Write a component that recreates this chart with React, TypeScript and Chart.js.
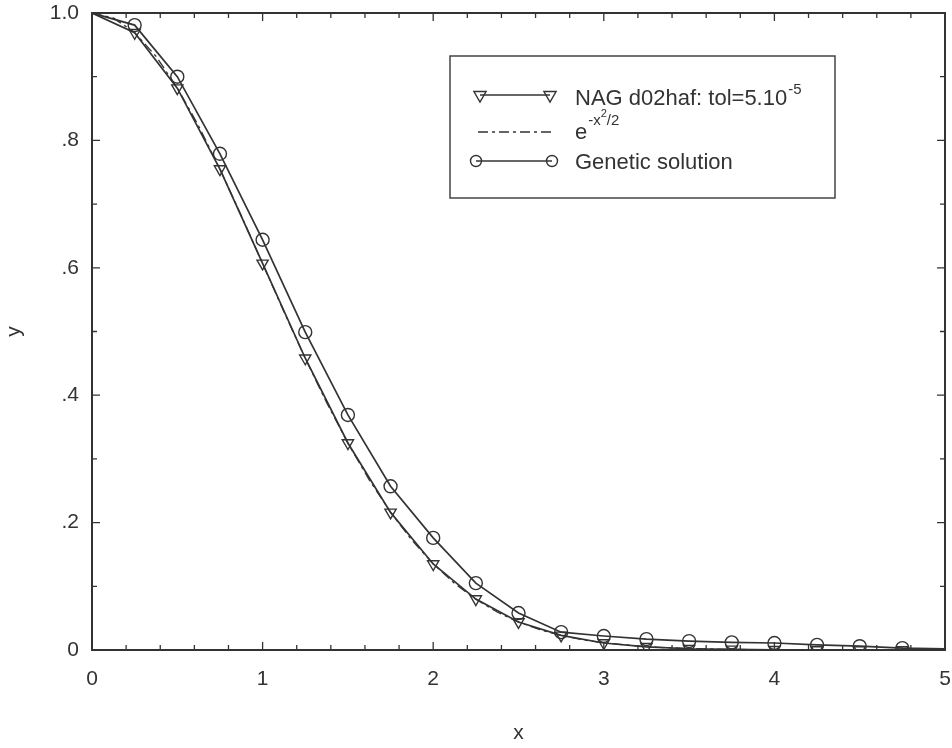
import React, { useEffect, useRef } from "react";
import { Chart, registerables } from "chart.js";

Chart.register(...registerables);

// ---- data ----
const xValues = [0, 0.25, 0.5, 0.75, 1, 1.25, 1.5, 1.75, 2, 2.25, 2.5, 2.75, 3, 3.25, 3.5, 3.75, 4, 4.25, 4.5, 4.75, 5];
const nagValues = [1.0, 0.969, 0.882, 0.755, 0.607, 0.458, 0.325, 0.216, 0.135, 0.08, 0.044, 0.023, 0.011, 0.005, 0.002, 0.001, 0.0003, 0.0001, 0, 0, 0];
const geneticValues = [1.0, 0.981, 0.9, 0.779, 0.644, 0.499, 0.369, 0.257, 0.176, 0.105, 0.058, 0.028, 0.022, 0.017, 0.014, 0.012, 0.011, 0.008, 0.006, 0.003, 0.002];
const expX = [0, 0.125, 0.25, 0.375, 0.5, 0.625, 0.75, 0.875, 1, 1.125, 1.25, 1.375, 1.5, 1.625, 1.75, 1.875, 2, 2.125, 2.25, 2.375, 2.5, 2.625, 2.75, 2.875, 3, 3.25, 3.5, 3.75, 4, 4.5, 5];
const expY = [1.0, 0.9922, 0.9692, 0.9321, 0.8825, 0.8226, 0.7548, 0.6819, 0.6065, 0.5311, 0.4578, 0.3886, 0.3247, 0.2671, 0.2163, 0.1724, 0.1353, 0.1046, 0.0796, 0.0596, 0.0439, 0.0319, 0.0228, 0.016, 0.0111, 0.0051, 0.0022, 0.0009, 0.0003, 0.0, 0.0];
const xTickLabels = ["0", "1", "2", "3", "4", "5"];
const yTickLabels = ["0", ".2", ".4", ".6", ".8", "1.0"];
const seriesNames = ["NAG d02haf: tol=5.10", "e", "Genetic solution"];
const xTitle = "x";
const yTitle = "y";

const INK = "#333333";
const FONT = "'Liberation Sans', Arial, Helvetica, sans-serif";

function drawTri(ctx: CanvasRenderingContext2D, x: number, y: number, r: number) {
  ctx.beginPath();
  ctx.moveTo(x - r * 0.87, y - r * 0.5);
  ctx.lineTo(x + r * 0.87, y - r * 0.5);
  ctx.lineTo(x, y + r);
  ctx.closePath();
  ctx.stroke();
}
function drawCirc(ctx: CanvasRenderingContext2D, x: number, y: number, r: number) {
  ctx.beginPath();
  ctx.arc(x, y, r, 0, Math.PI * 2);
  ctx.stroke();
}

const framePlugin = {
  id: "frameTicks",
  afterDatasetsDraw(chart: any) {
    const ctx = chart.ctx as CanvasRenderingContext2D;
    const { left, right, top, bottom } = chart.chartArea;
    const xs = chart.scales.x;
    const ys = chart.scales.y;
    ctx.save();
    ctx.strokeStyle = INK;
    ctx.lineWidth = 1.3;
    for (let i = 0; i <= 25; i++) {
      const px = xs.getPixelForValue(i * 0.2);
      const len = i % 5 === 0 ? 8 : 5;
      ctx.beginPath();
      ctx.moveTo(px, bottom);
      ctx.lineTo(px, bottom - len);
      ctx.moveTo(px, top);
      ctx.lineTo(px, top + len);
      ctx.stroke();
    }
    for (let i = 0; i <= 10; i++) {
      const py = ys.getPixelForValue(i * 0.1);
      const len = i % 2 === 0 ? 8 : 5;
      ctx.beginPath();
      ctx.moveTo(left, py);
      ctx.lineTo(left + len, py);
      ctx.moveTo(right, py);
      ctx.lineTo(right - len, py);
      ctx.stroke();
    }
    ctx.lineWidth = 2;
    ctx.strokeRect(left, top, right - left, bottom - top);
    ctx.restore();
  },
  afterDraw(chart: any) {
    const ctx = chart.ctx as CanvasRenderingContext2D;
    ctx.save();
    // legend box
    ctx.strokeStyle = "#444";
    ctx.lineWidth = 1.5;
    ctx.strokeRect(450, 56, 385, 142);
    ctx.strokeStyle = INK;
    ctx.fillStyle = INK;
    ctx.lineWidth = 1.6;
    // row 1
    ctx.beginPath();
    ctx.moveTo(480, 95);
    ctx.lineTo(550, 95);
    ctx.stroke();
    ctx.lineWidth = 1.4;
    drawTri(ctx, 480, 95, 7);
    drawTri(ctx, 550, 95, 7);
    ctx.textBaseline = "alphabetic";
    ctx.textAlign = "left";
    ctx.font = `22px ${FONT}`;
    ctx.fillText(seriesNames[0], 575, 105);
    const w0 = ctx.measureText(seriesNames[0]).width;
    ctx.font = `15px ${FONT}`;
    ctx.fillText("-5", 575 + w0 + 1, 94);
    // row 2
    ctx.lineWidth = 1.3;
    ctx.setLineDash([10, 4, 3, 4]);
    ctx.beginPath();
    ctx.moveTo(478, 132);
    ctx.lineTo(552, 132);
    ctx.stroke();
    ctx.setLineDash([]);
    ctx.font = `22px ${FONT}`;
    ctx.fillText(seriesNames[1], 575, 139);
    const we = ctx.measureText(seriesNames[1]).width;
    ctx.font = `15px ${FONT}`;
    let xx = 575 + we + 1;
    ctx.fillText("-x", xx, 125);
    xx += ctx.measureText("-x").width;
    ctx.font = `11px ${FONT}`;
    ctx.fillText("2", xx, 117);
    xx += ctx.measureText("2").width;
    ctx.font = `15px ${FONT}`;
    ctx.fillText("/2", xx, 125);
    // row 3
    ctx.lineWidth = 1.6;
    ctx.beginPath();
    ctx.moveTo(476, 161);
    ctx.lineTo(552, 161);
    ctx.stroke();
    ctx.lineWidth = 1.4;
    drawCirc(ctx, 476, 161, 5.5);
    drawCirc(ctx, 552, 161, 5.5);
    ctx.font = `22px ${FONT}`;
    ctx.fillText(seriesNames[2], 575, 169);
    ctx.restore();
  },
};

const markerRadius = xValues.map((x) => (x === 0 || x === 5 ? 0 : 6.5));

export default function App() {
  const ref = useRef<HTMLCanvasElement | null>(null);
  useEffect(() => {
    if (!ref.current) return;
    const chart = new Chart(ref.current, {
      type: "line",
      data: {
        datasets: [
          {
            label: "exp",
            data: expX.map((x, i) => ({ x, y: expY[i] })),
            borderColor: INK,
            borderWidth: 1.3,
            borderDash: [10, 4, 3, 4],
            pointRadius: 0,
            tension: 0,
            fill: false,
          },
          {
            label: seriesNames[0],
            data: xValues.map((x, i) => ({ x, y: nagValues[i] })),
            borderColor: INK,
            borderWidth: 1.7,
            pointStyle: "triangle",
            rotation: 180,
            pointRadius: markerRadius,
            pointBorderWidth: 1.4,
            pointBorderColor: INK,
            pointBackgroundColor: "rgba(255,255,255,0)",
            tension: 0,
            fill: false,
          },
          {
            label: seriesNames[2],
            data: xValues.map((x, i) => ({ x, y: geneticValues[i] })),
            borderColor: INK,
            borderWidth: 1.7,
            pointStyle: "circle",
            pointRadius: markerRadius,
            pointBorderWidth: 1.4,
            pointBorderColor: INK,
            pointBackgroundColor: "rgba(255,255,255,0)",
            tension: 0,
            fill: false,
          },
        ],
      },
      options: {
        animation: false,
        responsive: false,
        maintainAspectRatio: false,
        devicePixelRatio: 1,
        layout: { padding: { left: 0, right: 7, top: 13, bottom: 0 } },
        plugins: { legend: { display: false }, tooltip: { enabled: false } },
        scales: {
          x: {
            type: "linear",
            min: 0,
            max: 5,
            grid: { display: false, drawTicks: false },
            border: { display: false },
            ticks: {
              stepSize: 1,
              padding: 17,
              color: INK,
              font: { family: FONT, size: 21 },
              maxRotation: 0,
              callback: (_v: any, i: number) => xTickLabels[i],
            },
            title: {
              display: true,
              text: xTitle,
              color: INK,
              font: { family: FONT, size: 21 },
              padding: { top: 0, bottom: 2 },
            },
            afterFit: (s: any) => {
              s.height = 98;
              s.paddingLeft = 0;
              s.paddingRight = 0;
              s.paddingTop = 0;
              s.paddingBottom = 0;
            },
          },
          y: {
            type: "linear",
            min: 0,
            max: 1,
            grid: { display: false, drawTicks: false },
            border: { display: false },
            ticks: {
              stepSize: 0.2,
              padding: 13,
              color: INK,
              font: { family: FONT, size: 21 },
              callback: (_v: any, i: number) => yTickLabels[i],
            },
            title: {
              display: true,
              text: yTitle,
              color: INK,
              font: { family: FONT, size: 21 },
              padding: { top: 2, bottom: 0 },
            },
            afterFit: (s: any) => {
              s.width = 92;
              s.paddingLeft = 0;
              s.paddingRight = 0;
              s.paddingTop = 0;
              s.paddingBottom = 0;
            },
          },
        },
      },
      plugins: [framePlugin],
    });
    return () => chart.destroy();
  }, []);
  return (
    <div style={{ position: "absolute", left: 0, top: 0, width: 952, height: 748, background: "#fff" }}>
      <canvas ref={ref} width={952} height={748} />
    </div>
  );
}
